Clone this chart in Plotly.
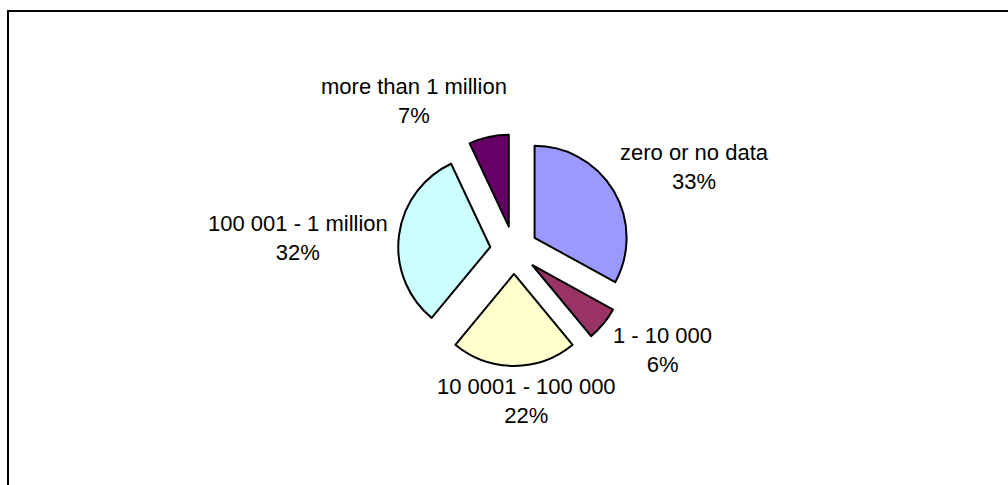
import plotly.graph_objects as go

# Share of records by size class
categories = ["zero or no data", "1 - 10 000", "10 0001 - 100 000",
              "100 001 - 1 million", "more than 1 million"]
values = [33, 6, 22, 32, 7]

# Layout constants (pixels on a 1008 x 485 canvas)
W, H = 1008, 485
colors = ["#9999FF", "#993366", "#FFFFCC", "#CCFFFF", "#660066"]
pie_cx, pie_cy = 514, 250
pie_r = 92
explode = 0.26
# label block centres relative to the pie centre
label_offsets = [(180, -83), (148, 100), (12, 151), (-216, -12), (-100, -149)]

half = pie_r * (1 + explode)
dom_x = [(pie_cx - half) / W, (pie_cx + half) / W]
dom_y = [1 - (pie_cy + half) / H, 1 - (pie_cy - half) / H]

fig = go.Figure(go.Pie(
    labels=categories,
    values=values,
    sort=False,
    direction="clockwise",
    rotation=0,
    pull=[explode] * len(values),
    marker=dict(colors=colors, line=dict(color="black", width=2)),
    textinfo="none",
    hoverinfo="label+percent",
    showlegend=False,
    domain=dict(x=dom_x, y=dom_y),
))

total = sum(values)
annotations = []
for name, v, (dx, dy) in zip(categories, values, label_offsets):
    pct = round(100 * v / total)
    annotations.append(dict(
        text=f"{name}<br>{pct}%",
        x=(pie_cx + dx) / W, y=1 - (pie_cy + dy) / H,
        xref="paper", yref="paper",
        xanchor="center", yanchor="middle",
        showarrow=False, align="center",
        font=dict(family="Arial, Liberation Sans, sans-serif", size=22, color="black"),
    ))

# chart-area frame (top and left edges fall inside the canvas)
fig.add_shape(type="rect", xref="paper", yref="paper",
              x0=8 / W, y0=-0.1, x1=1.1, y1=1 - 11 / H,
              line=dict(color="black", width=2), fillcolor="rgba(0,0,0,0)")

fig.update_layout(
    width=W, height=H,
    margin=dict(l=0, r=0, t=0, b=0),
    paper_bgcolor="white",
    plot_bgcolor="white",
    annotations=annotations,
)

fig.write_html("out.html")
